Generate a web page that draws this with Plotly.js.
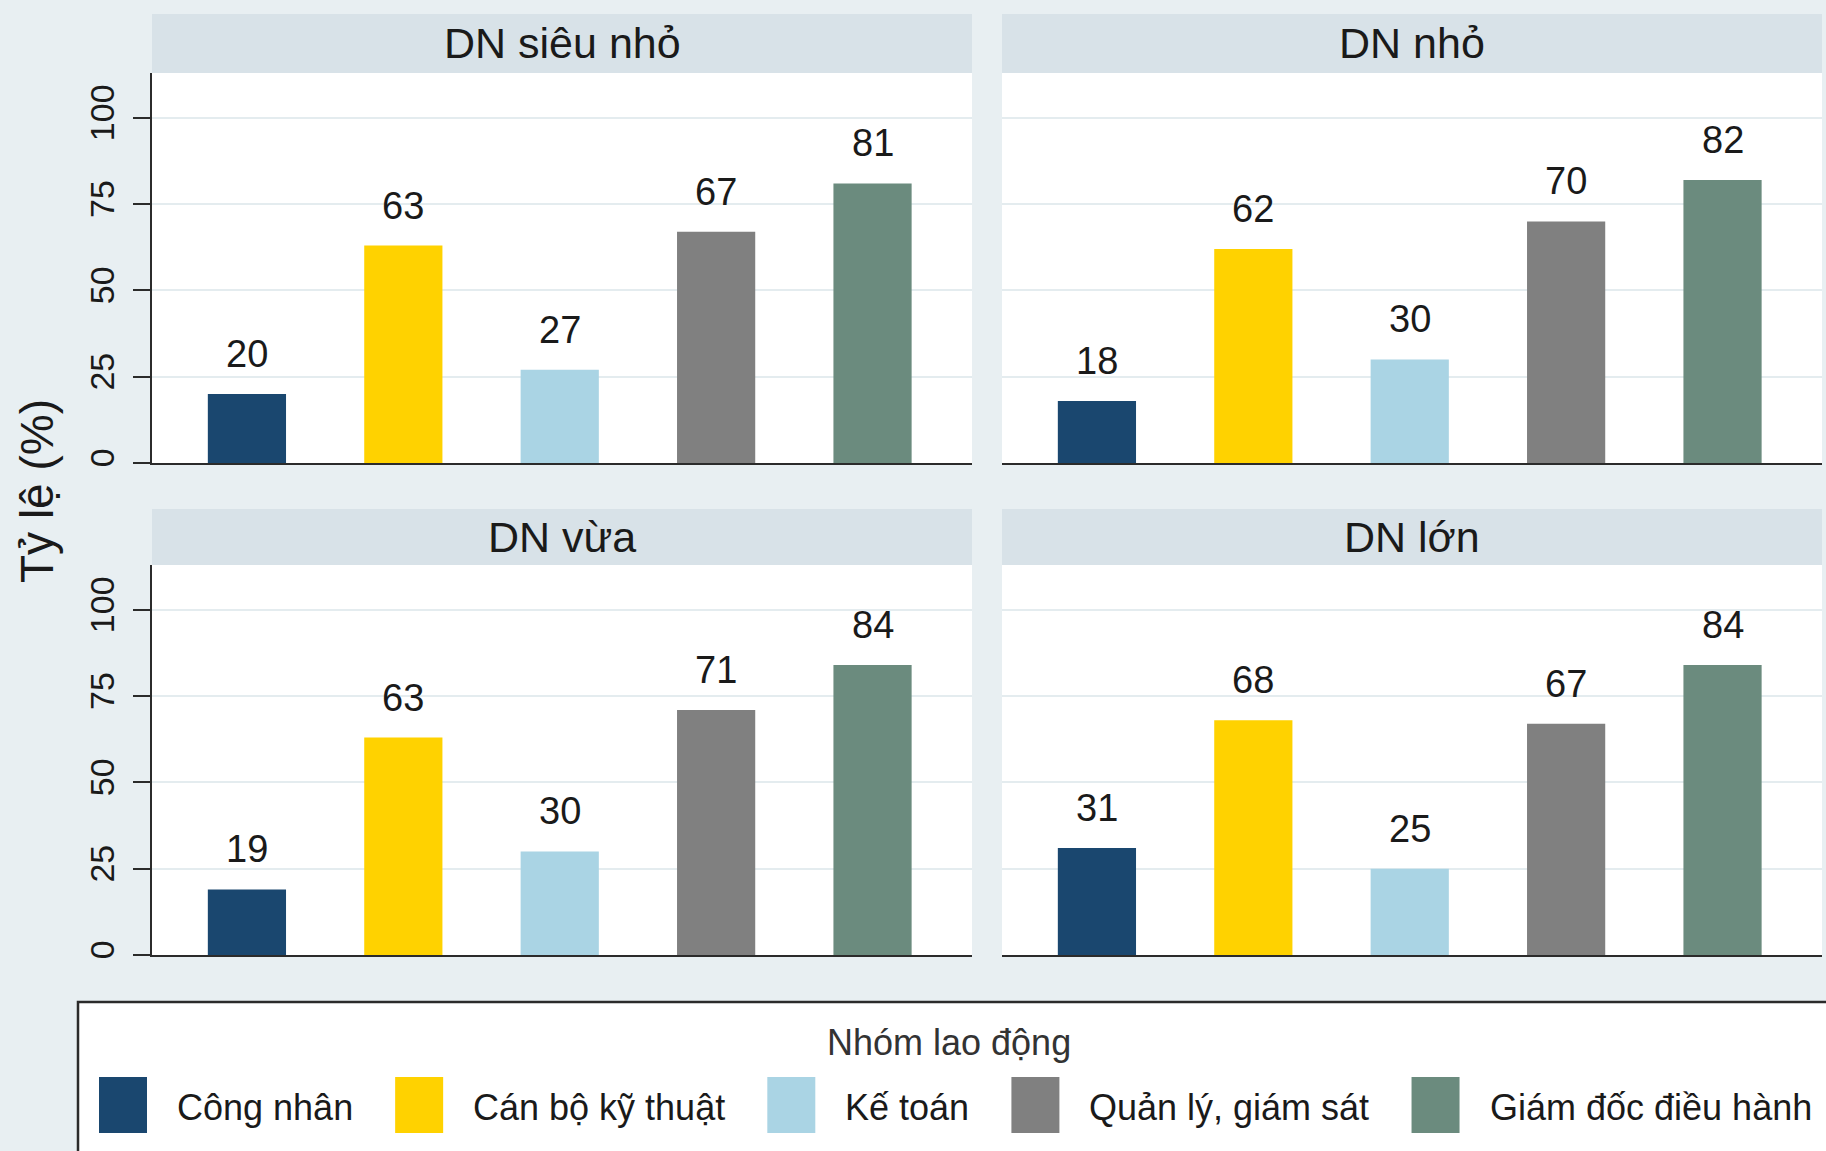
<!DOCTYPE html>
<html>
<head>
<meta charset="utf-8">
<script src="https://cdn.plot.ly/plotly-3.0.1.min.js"></script>
<style>
  html, body { margin: 0; padding: 0; background: #e8eff2; }
  #chart { width: 1826px; height: 1151px; }
</style>
</head>
<body>
<div id="chart"></div>
<script>
// ---------------- DATA ----------------
const categories = ['Công nhân', 'Cán bộ kỹ thuật', 'Kế toán', 'Quản lý, giám sát', 'Giám đốc điều hành'];
const panelNames = ['DN siêu nhỏ', 'DN nhỏ', 'DN vừa', 'DN lớn'];
const valsSieuNho = [20, 63, 27, 67, 81];
const valsNho     = [18, 62, 30, 70, 82];
const valsVua     = [19, 63, 30, 71, 84];
const valsLon     = [31, 68, 25, 67, 84];
const yTickVals = [0, 25, 50, 75, 100];
const yTitle = 'Tỷ lệ (%)';
const legendTitle = 'Nhóm lao động';

// ---------------- STYLE ----------------
const W = 1826, H = 1151;
const FONT = '"Liberation Sans", Arial, Helvetica, sans-serif';
const barColors = ['#1a476f', '#ffd200', '#aad4e4', '#808080', '#6b8b7e'];
const bg = '#e8eff2';
const stripColor = '#d8e2e8';
const textColor = '#1a1a1a';
const axisColor = '#2b2b2b';
const gridColor = '#e4ecef';

const px = v => v / W;
const py = v => 1 - v / H;

// panel geometry (pixels)
const colX = [[152, 972], [1002, 1822]];
const rowY = [[73, 463], [565, 955]];       // plot area top / bottom
const stripY = [[14, 73], [509, 565]];
const panelVals = [valsSieuNho, valsNho, valsVua, valsLon];
const xRange = [-0.607, 4.636];
const yRange = [0, 113];

const traces = [];
const layout = {
  width: W, height: H,
  margin: {l: 0, r: 0, t: 0, b: 0, pad: 0},
  paper_bgcolor: bg,
  plot_bgcolor: '#ffffff',
  showlegend: false,
  font: {family: FONT, color: textColor},
  shapes: [],
  annotations: []
};

panelVals.forEach((vals, i) => {
  const col = i % 2, row = Math.floor(i / 2);
  const sfx = i === 0 ? '' : String(i + 1);
  const xa = 'x' + sfx, ya = 'y' + sfx;
  traces.push({
    type: 'bar',
    x: categories,
    y: vals,
    xaxis: xa, yaxis: ya,
    width: 0.5,
    marker: {color: barColors, line: {width: 0}},
    hovertemplate: '%{x}: %{y}<extra>' + panelNames[i] + '</extra>'
  });
  layout['xaxis' + sfx] = {
    domain: [px(colX[col][0]), px(colX[col][1])],
    anchor: ya,
    type: 'category',
    categoryarray: categories,
    range: xRange,
    showticklabels: false,
    ticks: '',
    showgrid: false,
    zeroline: false,
    showline: true,
    linecolor: axisColor,
    linewidth: 2,
    fixedrange: true
  };
  const isLeft = col === 0;
  layout['yaxis' + sfx] = {
    domain: [py(rowY[row][1]), py(rowY[row][0])],
    anchor: xa,
    range: yRange,
    tickvals: yTickVals,
    ticktext: yTickVals.map(String),
    showticklabels: isLeft,
    ticks: isLeft ? 'outside' : '',
    ticklen: 17,
    tickwidth: 2,
    tickcolor: axisColor,
    tickangle: -90,
    ticklabelstandoff: 5,
    tickfont: {size: 34, color: textColor, family: FONT},
    showgrid: true,
    gridcolor: gridColor,
    gridwidth: 2,
    zeroline: false,
    showline: isLeft,
    linecolor: axisColor,
    linewidth: 2,
    fixedrange: true
  };
  // strip header
  layout.shapes.push({
    type: 'rect', xref: 'paper', yref: 'paper', layer: 'below',
    x0: px(colX[col][0]), x1: px(colX[col][1]),
    y0: py(stripY[row][1]), y1: py(stripY[row][0]),
    fillcolor: stripColor, line: {width: 0}
  });
  layout.annotations.push({
    xref: 'paper', yref: 'paper',
    x: px((colX[col][0] + colX[col][1]) / 2),
    y: py((stripY[row][0] + stripY[row][1]) / 2),
    xanchor: 'center', yanchor: 'middle',
    text: panelNames[i], showarrow: false,
    font: {size: 43, color: textColor, family: FONT}
  });
  // value labels
  vals.forEach((v, k) => {
    layout.annotations.push({
      xref: xa, yref: ya, x: k, y: v,
      xanchor: 'center', yanchor: 'bottom', yshift: 17,
      text: String(v), showarrow: false,
      font: {size: 38, color: textColor, family: FONT}
    });
  });
});

// y axis title
layout.annotations.push({
  xref: 'paper', yref: 'paper', x: px(37), y: py(491),
  xanchor: 'center', yanchor: 'middle', textangle: -90,
  text: yTitle, showarrow: false,
  font: {size: 46, color: textColor, family: FONT}
});

// legend box
layout.shapes.push({
  type: 'rect', xref: 'paper', yref: 'paper', layer: 'above',
  x0: px(78), x1: px(1840), y0: py(1165), y1: py(1002),
  fillcolor: '#ffffff', line: {color: axisColor, width: 2.5}
});
layout.annotations.push({
  xref: 'paper', yref: 'paper', x: px(949), y: py(1042),
  xanchor: 'center', yanchor: 'middle',
  text: legendTitle, showarrow: false,
  font: {size: 36, color: '#333333', family: FONT}
});

// legend items laid out as a flow, widths measured from the font
const legFontSize = 36;
const cv = document.createElement('canvas').getContext('2d');
cv.font = legFontSize + 'px "Liberation Sans", Arial, sans-serif';
let lx = 99;
const swW = 48, swTop = 1077, swBot = 1133, swGap = 28, itemGap = 44;
categories.forEach((c, k) => {
  layout.shapes.push({
    type: 'rect', xref: 'paper', yref: 'paper', layer: 'above',
    x0: px(lx), x1: px(lx + swW), y0: py(swBot), y1: py(swTop),
    fillcolor: barColors[k], line: {width: 0}
  });
  const tx = lx + swW + swGap;
  layout.annotations.push({
    xref: 'paper', yref: 'paper', x: px(tx), y: py((swTop + swBot) / 2 + 2),
    xanchor: 'left', yanchor: 'middle',
    text: c, showarrow: false,
    font: {size: legFontSize, color: textColor, family: FONT}
  });
  lx = tx + cv.measureText(c).width + itemGap;
});

Plotly.newPlot('chart', traces, layout, {displayModeBar: false, staticPlot: true});
</script>
</body>
</html>
